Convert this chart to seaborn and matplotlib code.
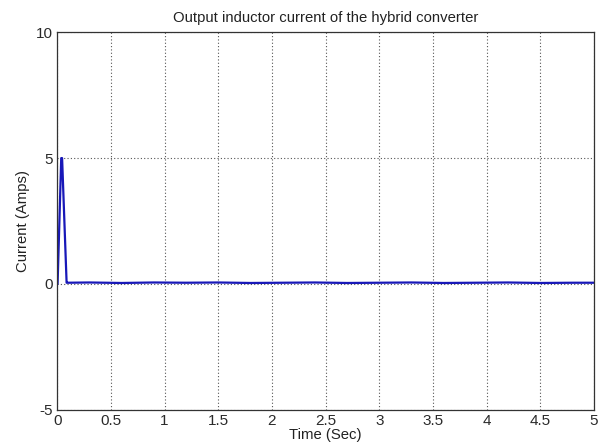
import pandas as pd
import numpy as np
import matplotlib.pyplot as plt
import seaborn as sns

# 시간(초)과 출력 인덕터 전류(A) - 그림에서 읽은 값
time_sec = [0.0, 0.004, 0.038, 0.046, 0.088, 0.095, 0.3, 0.6, 0.9, 1.2, 1.5, 1.8,
            2.1, 2.4, 2.7, 3.0, 3.3, 3.6, 3.9, 4.2, 4.5, 4.8, 5.0]
current_amps = [0.0, 0.0, 5.0, 5.0, 0.05, 0.05, 0.06, 0.04, 0.06, 0.05, 0.06, 0.04,
                0.05, 0.06, 0.04, 0.05, 0.06, 0.04, 0.05, 0.06, 0.04, 0.05, 0.05]
x_ticks = [0, 0.5, 1, 1.5, 2, 2.5, 3, 3.5, 4, 4.5, 5]
x_tick_labels = ['0', '0.5', '1', '1.5', '2', '2.5', '3', '3.5', '4', '4.5', '5']
y_ticks = [-5, 0, 5, 10]

df = pd.DataFrame({'Time': time_sec, 'Current': current_amps})

sns.set_style('white')
plt.rcParams['font.family'] = ['Liberation Sans', 'DejaVu Sans']
plt.rcParams['axes.unicode_minus'] = False

fig = plt.figure(figsize=(6.08, 4.47), dpi=100)
ax = fig.add_axes([0.094, 0.083, 0.883, 0.845])

sns.lineplot(x='Time', y='Current', data=df, sort=False, estimator=None,
             color='#1818b8', linewidth=1.6, ax=ax)

ax.set_xlim(0, 5)
ax.set_ylim(-5, 10)
ax.set_xticks(x_ticks)
ax.set_xticklabels(x_tick_labels)
ax.set_yticks(y_ticks)
ax.grid(True, linestyle=(0, (1, 2)), color='#555555', linewidth=0.8)
ax.tick_params(direction='in', length=4, width=0.8, color='#333333',
               labelsize=11, pad=3, labelcolor='#2a2a2a')
for s in ax.spines.values():
    s.set_color('#333333')
    s.set_linewidth(0.9)

ax.set_title('Output inductor current of the hybrid converter', fontsize=10.7,
             pad=7, color='#222222')
ax.set_xlabel('Time (Sec)', fontsize=10.7, labelpad=0, color='#222222')
ax.set_ylabel('Current (Amps)', fontsize=10.7, labelpad=4, color='#222222')

plt.savefig('out.png', dpi=100)
